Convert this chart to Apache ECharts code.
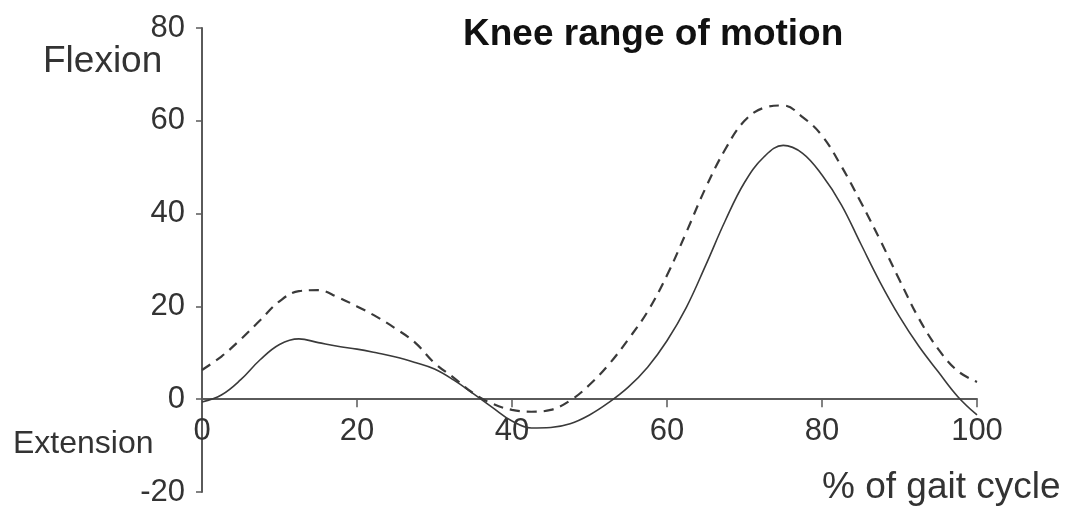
<!DOCTYPE html>
<html>
<head>
<meta charset="utf-8">
<script src="https://cdn.jsdelivr.net/npm/echarts@6/dist/echarts.min.js"></script>
<style>html,body{margin:0;padding:0;background:#fff;}#c{width:1067px;height:506px;}</style>
</head>
<body>
<div id="c"></div>
<script>
// % of gait cycle
const gaitPct = [0,2.5,5,7.5,10,12.5,15,17.5,20,22.5,25,27.5,30,32.5,35,37.5,40,42.5,45,47.5,50,52.5,55,57.5,60,62.5,65,67.5,70,72.5,75,77.5,80,82.5,85,87.5,90,92.5,95,97.5,100];
// solid curve (knee angle, degrees)
const kneeSolid = [-0.6,0.9,4.2,8.5,11.8,13.0,12.2,11.4,10.8,10.0,9.1,7.9,6.5,4.1,1.2,-1.8,-4.7,-6.2,-6.1,-5.3,-3.4,-0.7,2.6,6.9,12.6,19.8,28.9,38.4,46.7,52.2,54.7,53.0,48.3,41.9,33.5,25.2,17.8,11.4,5.9,0.6,-3.4];
// dashed curve (knee angle, degrees)
const kneeDashed = [6.3,9.2,12.9,17.0,21.1,23.3,23.5,22.0,20.0,17.8,15.2,12.2,7.8,4.6,1.3,-1.0,-2.3,-2.7,-2.3,-0.3,3.1,7.5,12.9,18.9,26.7,36.0,45.6,53.8,60.0,62.8,63.3,60.8,56.8,50.2,42.5,34.3,25.7,17.4,10.8,6.1,3.7];
const xTicks = [0,20,40,60,80,100];
const yTicks = [-20,0,20,40,60,80];

const FONT = '"Liberation Sans", Arial, Helvetica, sans-serif';
const chart = echarts.init(document.getElementById('c'), null, {renderer:'canvas'});
chart.setOption({
  backgroundColor:'#fff',
  animation:false,
  grid:{left:202,right:90,top:28,bottom:14,containLabel:false,outerBoundsMode:'none'},
  xAxis:[{
    type:'value', min:xTicks[0], max:xTicks[xTicks.length-1], interval:20,
    axisLine:{onZero:true, lineStyle:{color:'#5a5a5a', width:2}},
    axisTick:{show:true, inside:false, length:8, lineStyle:{color:'#5a5a5a', width:1.5}},
    axisLabel:{show:false},
    splitLine:{show:false}
  },{
    type:'value', position:'bottom', offset:-93, min:xTicks[0], max:xTicks[xTicks.length-1], interval:20,
    axisLine:{show:false, onZero:false},
    axisTick:{show:false},
    axisLabel:{margin:17, fontSize:31, color:'#333', fontFamily:FONT},
    splitLine:{show:false}
  }],
  yAxis:{
    type:'value', min:yTicks[0], max:yTicks[yTicks.length-1], interval:20,
    axisLine:{show:true, onZero:false, lineStyle:{color:'#5a5a5a', width:2}},
    axisTick:{show:true, length:6, lineStyle:{color:'#5a5a5a', width:1.5}},
    axisLabel:{margin:17, fontSize:31, color:'#333', fontFamily:FONT},
    splitLine:{show:false}
  },
  series:[
    {type:'line', xAxisIndex:0, data:gaitPct.map((x,i)=>[x,kneeSolid[i]]), smooth:0.4, symbol:'none',
     lineStyle:{color:'#3a3a3a', width:1.6, type:'solid'}},
    {type:'line', xAxisIndex:0, data:gaitPct.map((x,i)=>[x,kneeDashed[i]]), smooth:0.4, symbol:'none',
     lineStyle:{color:'#3a3a3a', width:2.2, type:[10,7]}}
  ],
  graphic:[
    {type:'text', style:{text:'Knee range of motion', x:463, y:35, font:'bold 37px '+FONT, fill:'#111', textAlign:'left', textVerticalAlign:'middle'}},
    {type:'text', style:{text:'Flexion', x:43, y:62, font:'37px '+FONT, fill:'#333', textAlign:'left', textVerticalAlign:'middle'}},
    {type:'text', style:{text:'Extension', x:13, y:444, font:'32px '+FONT, fill:'#333', textAlign:'left', textVerticalAlign:'middle'}},
    {type:'text', style:{text:'% of gait cycle', x:822, y:488, font:'37px '+FONT, fill:'#333', textAlign:'left', textVerticalAlign:'middle'}}
  ]
});
</script>
</body>
</html>
